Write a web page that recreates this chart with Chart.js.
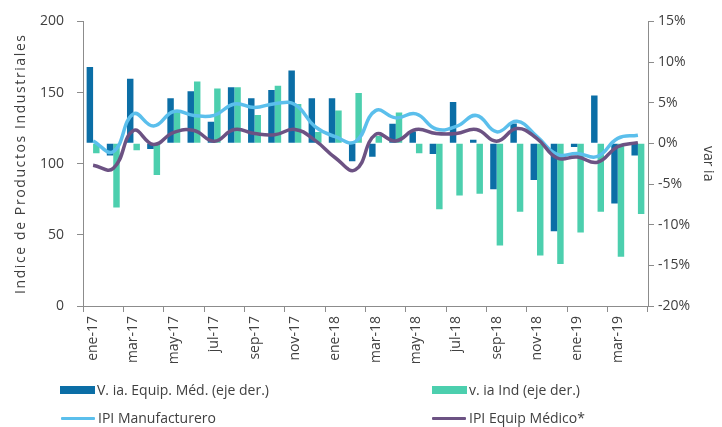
<!DOCTYPE html>
<html>
<head>
<meta charset="utf-8">
<script src="https://cdn.jsdelivr.net/npm/chart.js@4.4.1/dist/chart.umd.min.js"></script>
<style>
  html, body { margin: 0; padding: 0; background: #ffffff; }
  #wrap { position: relative; width: 722px; height: 427px; overflow: hidden; }
  #c { position: absolute; left: 0; top: 0; }
  .leg { position: absolute; font-family: "Open Sans", sans-serif; font-size: 14px; color: #404040; white-space: nowrap; line-height: 18px; display: flex; align-items: center; }
  .box { display: inline-block; width: 35px; height: 8px; margin-right: 2px; }
  .ln { display: inline-block; width: 34px; height: 3px; margin-right: 3px; border-radius: 1px; }
</style>
</head>
<body>
<div id="wrap">
  <canvas id="c" width="722" height="427"></canvas>
  <div class="leg" style="left:60px;top:381px"><span class="box" style="background:#0b6ea6"></span>V. ia. Equip. Méd. (eje der.)</div>
  <div class="leg" style="left:432px;top:381px"><span class="box" style="background:#4ccfae"></span>v. ia Ind (eje der.)</div>
  <div class="leg" style="left:61px;top:409px"><span class="ln" style="background:#5bbfec"></span>IPI Manufacturero</div>
  <div class="leg" style="left:432px;top:409px"><span class="ln" style="background:#6c5283"></span>IPI Equip Médico*</div>
</div>
<script>
const months = ["ene-17","feb-17","mar-17","abr-17","may-17","jun-17","jul-17","ago-17","sep-17","oct-17","nov-17","dic-17",
                "ene-18","feb-18","mar-18","abr-18","may-18","jun-18","jul-18","ago-18","sep-18","oct-18","nov-18","dic-18",
                "ene-19","feb-19","mar-19","abr-19"];
const viaEquipMed = [9.4, -1.5, 7.95, -0.7, 5.55, 6.4, 2.65, 6.9, 5.55, 6.55, 8.95, 5.55, 5.55, -2.2, -1.65, 2.4, 1.45, -1.3, 5.1, 0.45, -5.65, 2.45, -4.5, -10.8, -0.45, 5.9, -7.4, -1.5];
const viaInd = [-1.2, -7.9, -0.85, -3.9, 4.0, 7.6, 6.75, 6.9, 3.5, 7.1, 4.85, 1.4, 4.05, 6.2, 0.9, 3.8, -1.2, -8.1, -6.4, -6.2, -12.55, -8.4, -13.8, -14.85, -10.95, -8.4, -13.95, -8.7];
const ipiManufacturero = [116, 108.5, 135, 126.5, 136.7, 133.9, 134, 142, 139.5, 142.2, 141.6, 126, 119, 115.5, 137.3, 132.2, 135, 124.4, 126.2, 133.9, 122.4, 129.8, 119, 106.5, 107.2, 105.1, 117.8, 120];
const ipiEquipMedico = [98.9, 96.7, 123.3, 113.5, 122, 123.3, 115.8, 124, 121.2, 120.3, 124.1, 116.4, 104.2, 95.7, 120.6, 116, 124, 121.2, 121.2, 124, 115.8, 124.7, 117.6, 104, 104.7, 101, 112, 114.8];
const leftTicks = [0, 50, 100, 150, 200];
const rightTicks = [-20, -15, -10, -5, 0, 5, 10, 15];

const FONT = "'Open Sans', sans-serif";
const TXT = "#404040";
const AX = "#8c8c8c";

const spacingPlugin = {
  id: 'spacing',
  beforeDraw(chart) {
    const y = chart.scales.y;
    if (y && !y.__patched) {
      const orig = y.drawTitle;
      y.drawTitle = function () {
        this.ctx.save();
        this.ctx.letterSpacing = '1.6px';
        orig.call(this);
        this.ctx.restore();
      };
      y.__patched = true;
    }
  }
};

new Chart(document.getElementById('c'), {
  data: {
    labels: months,
    datasets: [
      { type: 'bar', label: 'V. ia. Equip. Méd. (eje der.)', data: viaEquipMed, yAxisID: 'y1', backgroundColor: '#0b6ea6', borderWidth: 0, categoryPercentage: 0.64, barPercentage: 1.0, order: 2 },
      { type: 'bar', label: 'v. ia Ind (eje der.)', data: viaInd, yAxisID: 'y1', backgroundColor: '#4ccfae', borderWidth: 0, categoryPercentage: 0.64, barPercentage: 1.0, order: 2 },
      { type: 'line', label: 'IPI Manufacturero', data: ipiManufacturero, yAxisID: 'y', borderColor: '#5bbfec', borderWidth: 3.5, pointRadius: 0, tension: 0.45, fill: false, order: 1 },
      { type: 'line', label: 'IPI Equip Médico*', data: ipiEquipMedico, yAxisID: 'y', borderColor: '#6c5283', borderWidth: 3.5, pointRadius: 0, tension: 0.45, fill: false, order: 0 }
    ]
  },
  options: {
    responsive: false,
    animation: false,
    devicePixelRatio: 1,
    layout: { padding: { left: 0, right: 0, top: 16, bottom: 62 } },
    plugins: { legend: { display: false }, tooltip: { enabled: false } },
    scales: {
      x: {
        offset: true,
        grid: {
          offset: true, drawOnChartArea: false, drawTicks: true, tickLength: 6,
          tickColor: (ctx) => (ctx.index === undefined || ctx.index % 2 === 0) ? AX : 'rgba(0,0,0,0)'
        },
        border: { display: true, color: AX, width: 1 },
        ticks: {
          autoSkip: false, maxRotation: 90, minRotation: 90, padding: 4,
          color: TXT, font: { family: FONT, size: 14 },
          callback: function (v, i) { return i % 2 === 0 ? months[i] : ''; }
        },
        afterFit: (s) => { s.height = 59; }
      },
      y: {
        position: 'left', min: 0, max: 200,
        afterBuildTicks: (s) => { s.ticks = leftTicks.map(v => ({ value: v })); },
        grid: { drawOnChartArea: false, tickLength: 6, tickColor: AX },
        border: { display: true, color: AX, width: 1 },
        ticks: { color: TXT, font: { family: FONT, size: 14 }, padding: 13 },
        title: { display: true, text: 'Indice de Productos Industriales', color: TXT, font: { family: FONT, size: 14 }, padding: { top: 13, bottom: 0 } },
        afterFit: (s) => { s.width = 83; }
      },
      y1: {
        position: 'right', min: -20, max: 15,
        afterBuildTicks: (s) => { s.ticks = rightTicks.map(v => ({ value: v })); },
        grid: { drawOnChartArea: false, tickLength: 6, tickColor: AX },
        border: { display: true, color: AX, width: 1 },
        ticks: { color: TXT, font: { family: FONT, size: 14 }, padding: 4, callback: (v) => v + '%' },
        title: { display: true, text: 'var ia', color: TXT, font: { family: FONT, size: 14 }, padding: { top: 6, bottom: 0 } },
        afterFit: (s) => { s.width = 74; }
      }
    }
  },
  plugins: [spacingPlugin]
});
</script>
</body>
</html>
